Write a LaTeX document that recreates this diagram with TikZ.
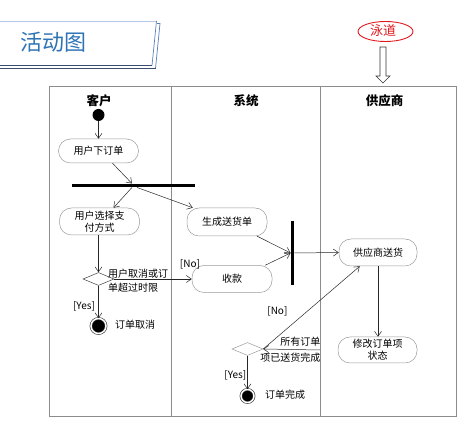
\documentclass[tikz,border=0pt]{standalone}
\usepackage{fontspec}
\setmainfont{Noto Sans CJK SC}
\usetikzlibrary{arrows.meta,positioning,shapes.geometric,calc}
\definecolor{LaneGray}{HTML}{8C8C8C}
\definecolor{NodeGray}{HTML}{9A9A9A}
\definecolor{TitleBlue}{HTML}{2E74B5}
\definecolor{FrameLight}{HTML}{B4C7E7}
\definecolor{FrameMid}{HTML}{5B7FB8}
\definecolor{FrameDark}{HTML}{3B4E6E}
\definecolor{NoteRed}{HTML}{E0191E}

\begin{document}
\begin{tikzpicture}[x=1pt,y=-1pt,
  act/.style={draw=NodeGray,line width=0.5pt,rounded corners=12pt,minimum width=80pt,minimum height=26pt,align=center,inner sep=1pt,font=\fontsize{10}{12}\selectfont},
  flow/.style={-{Straight Barb[length=5pt,width=7pt]},draw=black!85,line width=0.5pt},
  bar/.style={fill=black,inner sep=0pt},
  decision/.style={diamond,draw=black!75,line width=0.5pt,inner sep=0pt,minimum width=31pt,minimum height=13pt},
  start/.style={circle,fill=black,inner sep=0pt,minimum size=12pt},
  stop/.style={circle,fill=black,draw=black!80,line width=0.6pt,double=white,double distance=1.5pt,inner sep=0pt,minimum size=13pt},
  lbl/.style={inner sep=0pt,font=\fontsize{10}{12}\selectfont},
  lane/.style={inner sep=0pt,font=\fontsize{12.5}{14}\selectfont\bfseries}
]
  \useasboundingbox (0,0) rectangle (472,427);

  % title banner
  \draw[FrameMid,line width=0.7pt] (157,23.5) -- (160,23.5) -- (155.5,68.5);
  \draw[FrameDark,line width=0.7pt] (155.5,68.5) -- (0,68.5);
  \draw[FrameLight,line width=0.8pt] (0,21) -- (156.5,21);
  \draw[FrameMid,line width=0.7pt] (156.5,21) -- (152,65.5);
  \draw[FrameDark,line width=0.7pt] (152,65.5) -- (0,65.5);
  \node[inner sep=0pt,text=TitleBlue,font=\fontsize{22}{24}\selectfont] (title) at (53,42.5) {活动图};

  % swimlane note
  \draw[NoteRed,line width=0.9pt] (385.5,31.5) ellipse [x radius=27.5,y radius=10];
  \node[inner sep=0pt,text=NoteRed,font=\fontsize{13}{14}\selectfont] (note) at (383,31) {泳道};
  \draw[black!80,line width=0.6pt,fill=white] (380,47) -- (386,47) -- (386,76) -- (390,76)
    -- (383,83) -- (376,76) -- (380,76) -- cycle;

  % lanes
  \draw[LaneGray,line width=0.6pt] (49,86) rectangle (456,416);
  \draw[LaneGray,line width=0.6pt] (171,86) -- (171,416);
  \draw[LaneGray,line width=0.6pt] (320,86) -- (320,416);
  \node[lane] (cust) at (99,100.5) {客户};
  \node[lane] (sys) at (246,100.5) {系统};
  \node[lane] (vend) at (384.5,101) {供应商};

  % activities
  \node[start] (init) at (98.5,115) {};
  \node[act,minimum height=24pt] (order) at (98.5,151) {用户下订单};
  \node[bar,minimum width=123pt,minimum height=3.5pt] (fork) at (133.5,185.5) {};
  \node[act,minimum height=27pt] (pay) at (99.5,221.5) {用户选择支\\付方式};
  \node[act,minimum height=28pt] (ship) at (227,222) {生成送货单};
  \node[decision] (decide) at (98.5,279) {};
  \node[act,minimum height=27pt] (collect) at (232,279) {收款};
  \node[bar,minimum width=3.5pt,minimum height=64pt] (join) at (292.5,253) {};
  \node[act,minimum width=78pt,minimum height=27pt] (supply) at (378,252.5) {供应商送货};
  \node[act,minimum width=79pt] (modify) at (377.5,350) {修改订单项\\状态};
  \node[decision,draw=NodeGray] (check) at (247.5,349) {};
  \node[stop,minimum size=15pt] (cancel) at (98.5,326) {};
  \node[stop] (done) at (247.5,396) {};
  \coordinate (modify in) at (320,350);

  % labels
  \node[lbl,anchor=west,align=left,font=\fontsize{10}{14}\selectfont] (cancelcond) at (108,280.5) {用户取消或订\\单超过时限};
  \node[lbl] (no1) at (190,264) {[No]};
  \node[lbl] (yes1) at (84,306.5) {[Yes]};
  \node[lbl,anchor=west] (cancellbl) at (115,325) {订单取消};
  \node[lbl,anchor=east,align=right,font=\fontsize{10}{16}\selectfont] (donecond) at (320.5,350) {所有订单\\项已送货完成};
  \node[lbl,anchor=west] (donelbl) at (265,395) {订单完成};

  % flows
  \draw[flow] (init) -- (order);
  \draw[flow] ([xshift=14pt]order.south) -- ([xshift=-1.5pt]fork.north);
  \draw[flow] ([xshift=-1.5pt]fork.south) -- ([xshift=14pt]pay.north);
  \draw[flow] ([xshift=3.5pt]fork.south) -- ([xshift=6pt]ship.north west);
  \draw[flow] (pay.south -| decide.north) -- (decide.north);
  \draw[flow] (decide.east) -- (collect.west);
  \draw[flow] (decide.south) -- (cancel.north);
  \draw[flow] ([xshift=-10pt]ship.south east) -- (join.west);
  \draw[flow] ([xshift=-7pt]collect.north east) -- (join.west);
  \draw[flow] (join.east) -- (supply.west);
  \draw[flow] (supply.south) -- (supply.south |- modify.north);
  \draw[flow] (modify in) -- (check.east);
  \draw[flow] (check.east) -- node[lbl,pos=0.45,left=19pt] (no2) {[No]} ([xshift=21pt]supply.south west);
  \draw[flow] (check.south) -- node[lbl,pos=0.6,left=1pt] (yes2) {[Yes]} (done.north);
\end{tikzpicture}
\end{document}
